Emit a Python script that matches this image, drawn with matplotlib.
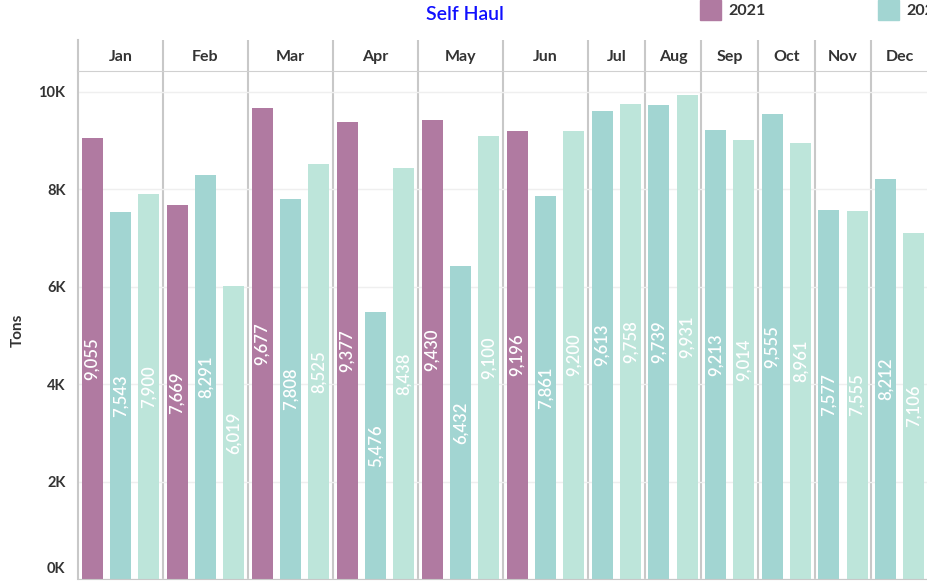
import numpy as np
import matplotlib
matplotlib.use("Agg")
from matplotlib import pyplot as plt
from matplotlib.transforms import ScaledTranslation

plt.rcParams['font.family'] = ['Lato', 'DejaVu Sans']

months = ['Jan', 'Feb', 'Mar', 'Apr', 'May', 'Jun',
          'Jul', 'Aug', 'Sep', 'Oct', 'Nov', 'Dec']
years = ['2021', '2022', '2023']
tons_2021 = [9055, 7669, 9677, 9377, 9430, 9196, None, None, None, None, None, None]
tons_2022 = [7543, 8291, 7808, 5476, 6432, 7861, 9613, 9739, 9213, 9555, 7577, 8212]
tons_2023 = [7900, 6019, 8525, 8438, 9100, 9200, 9758, 9931, 9014, 8961, 7555, 7106]
yticks = [0, 2000, 4000, 6000, 8000, 10000]
ytick_labels = ['0K', '2K', '4K', '6K', '8K', '10K']

colors = {'2021': '#b07aa1', '2022': '#a2d5d2', '2023': '#bde5da'}
series = {'2021': tons_2021, '2022': tons_2022, '2023': tons_2023}

W, H = 928, 581
fig = plt.figure(figsize=(W / 100, H / 100), dpi=100)
left_px, top_px, bottom_px, head_px = 78, 71, 579, 40
ax = fig.add_axes([left_px / W, (H - bottom_px) / H, (W - left_px) / W, (bottom_px - top_px) / H])
hax = fig.add_axes([left_px / W, (H - top_px) / H, (W - left_px) / W, (top_px - head_px) / H])

# lay out bars month by month, each year present takes one slot
pos = 0
bounds = [0]
centers = []
for i, m in enumerate(months):
    start = pos
    for y in years:
        v = series[y][i]
        if v is None:
            continue
        x = pos + 0.5
        ax.bar(x, v, width=0.74, color=colors[y], zorder=2)
        ax.text(x, v / 2, f'{v:,}', rotation=90, ha='center', va='center',
                color='white', fontsize=12, fontweight='semibold', zorder=3)
        pos += 1
    centers.append((start + pos) / 2)
    bounds.append(pos)

ymax = 10430
ax.set_xlim(0, pos)
ax.set_ylim(0, ymax)
ax.set_yticks(yticks)
ax.set_yticklabels(ytick_labels, fontsize=10.5, fontweight='bold', color='#333333')
ax.tick_params(axis='y', length=0, pad=9)
# keep the 0K label inside the figure, as in the original
zero_lbl = ax.get_yticklabels()[0]
zero_lbl.set_va('bottom')
zero_lbl.set_transform(zero_lbl.get_transform() + ScaledTranslation(0, 3 / 100, fig.dpi_scale_trans))
ax.set_xticks([])
ax.grid(axis='y', color='#efefef', lw=1, zorder=0)
for s in ['top', 'right']:
    ax.spines[s].set_visible(False)
ax.spines['left'].set_color('#c8c8c8')
ax.spines['bottom'].set_color('#c8c8c8')
ax.spines['left'].set_linewidth(1.5)
for b in bounds[1:-1]:
    ax.axvline(b, color='#c8c8c8', lw=1.5, zorder=1)

hax.set_xlim(0, pos)
hax.set_ylim(0, 1)
hax.set_xticks([])
hax.set_yticks([])
for s in ['top', 'right']:
    hax.spines[s].set_visible(False)
hax.spines['left'].set_color('#c8c8c8')
hax.spines['left'].set_linewidth(1.5)
hax.spines['bottom'].set_color('#d0d0d0')
for b in bounds[1:-1]:
    hax.axvline(b, color='#c8c8c8', lw=1.5)
for c, m in zip(centers, months):
    hax.text(c, 0.45, m, ha='center', va='center', fontsize=11.5,
             fontweight='bold', color='#333333')

fig.text(18 / W, 1 - 330 / H, 'Tons', rotation=90, ha='center', va='center',
         fontsize=11, fontweight='bold', color='#333333')
fig.text(465 / W, 1 - 15 / H, 'Self Haul', ha='center', va='center',
         fontsize=14, fontweight='semibold', color='#1010ff')

# legend along the top, running off the right edge
for k, y in enumerate(years):
    x0 = 700 + k * 178
    fig.patches.append(plt.Rectangle((x0 / W, 1 - 20 / H), 21 / W, 20 / H,
                                     transform=fig.transFigure, color=colors[y]))
    fig.text((x0 + 28) / W, 1 - 11 / H, y, ha='left', va='center',
             fontsize=11.5, fontweight='bold', color='#333333')

fig.savefig('out.png', dpi=100)
